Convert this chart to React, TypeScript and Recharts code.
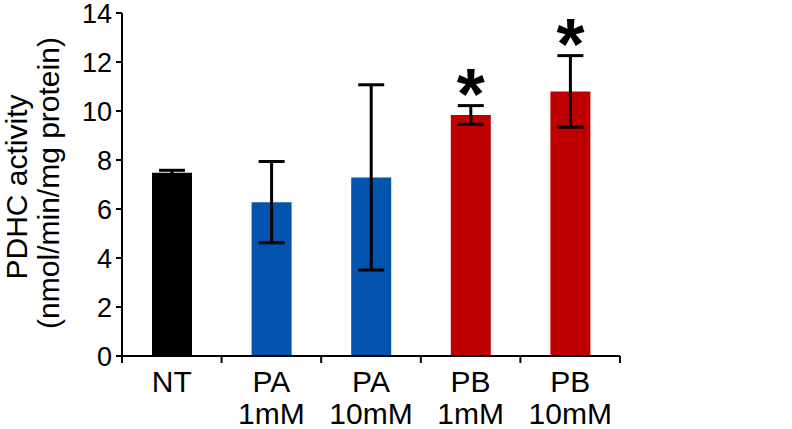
import React from "react";
import {
  BarChart,
  Bar,
  Cell,
  XAxis,
  YAxis,
  ErrorBar,
  LabelList,
  Label,
} from "recharts";

const catTop = ["NT", "PA", "PA", "PB", "PB"];
const catBottom = ["", "1mM", "10mM", "1mM", "10mM"];
const means = [7.48, 6.28, 7.29, 9.84, 10.8];
const errs = [0.1, 1.66, 3.78, 0.38, 1.46];
const sig = ["", "", "", "*", "*"];
const yTicks = [0, 2, 4, 6, 8, 10, 12, 14];

const BAR_COLORS = ["#000000", "#0254AE", "#0254AE", "#BE0000", "#BE0000"];

const W = 792;
const H = 429;
const M = { top: 13, right: 172, bottom: 0, left: 0 };
const Y_W = 122;
const X_H = 73;
const BAND = (W - M.left - M.right - Y_W) / catTop.length;
const FONT = "Liberation Sans, Arial, Helvetica, sans-serif";

const data = catTop.map((c, i) => ({
  name: c,
  sub: catBottom[i],
  mean: means[i],
  err: errs[i],
  sig: sig[i],
}));

function XTick(props: any) {
  const { x, y, index } = props;
  const last = index === catTop.length - 1;
  return (
    <g>
      <line x1={x - BAND / 2} x2={x - BAND / 2} y1={y} y2={y + 7} stroke="#000" strokeWidth={2} />
      {last && (
        <line x1={x + BAND / 2} x2={x + BAND / 2} y1={y} y2={y + 7} stroke="#000" strokeWidth={2} />
      )}
      <text x={x} y={y + 36} textAnchor="middle" fontSize={30} fontFamily={FONT} fill="#000">
        {catTop[index]}
      </text>
      <text x={x} y={y + 68} textAnchor="middle" fontSize={30} fontFamily={FONT} fill="#000">
        {catBottom[index]}
      </text>
    </g>
  );
}

// asterisk sits a fixed distance above the top of the error bar
function StarLabel(props: any) {
  const { x, y, width, height, value, index } = props;
  if (!value) return null;
  const errTop = y - errs[index] * (height / means[index]);
  const cy = errTop - 29;
  return (
    <text
      x={x + width / 2}
      y={cy + 42}
      textAnchor="middle"
      fontSize={72}
      fontWeight="bold"
      fontFamily={FONT}
      fill="#000"
    >
      {value}
    </text>
  );
}

function YTitle() {
  return (
    <g fontFamily={FONT} fontSize={30} fill="#000">
      <text x={27} y={187} textAnchor="middle" transform="rotate(-90, 27, 187)">
        PDHC activity
      </text>
      <text x={59} y={183} textAnchor="middle" transform="rotate(-90, 59, 183)">
        (nmol/min/mg protein)
      </text>
    </g>
  );
}

export default function App() {
  return (
    <div style={{ position: "absolute", left: 0, top: 0, width: W, height: H, background: "#fff" }}>
      <BarChart width={W} height={H} data={data} margin={M}>
        <XAxis
          dataKey="name"
          height={X_H}
          axisLine={{ stroke: "#000", strokeWidth: 2 }}
          tickLine={false}
          tickSize={0}
          tickMargin={0}
          tick={<XTick />}
          interval={0}
        />
        <YAxis
          width={Y_W}
          domain={[0, 14]}
          ticks={yTicks}
          interval={0}
          axisLine={{ stroke: "#000", strokeWidth: 2 }}
          tickLine={{ stroke: "#000", strokeWidth: 2 }}
          tickSize={6}
          tickMargin={4}
          tick={{ fill: "#000", fontSize: 27, fontFamily: FONT }}
        >
          <Label content={<YTitle />} />
        </YAxis>
        <Bar dataKey="mean" barSize={40} isAnimationActive={false}>
          {data.map((d, i) => (
            <Cell key={d.name + i} fill={BAR_COLORS[i]} />
          ))}
          <ErrorBar dataKey="err" width={13} strokeWidth={3} stroke="#000" />
          <LabelList dataKey="sig" content={<StarLabel />} />
        </Bar>
      </BarChart>
    </div>
  );
}
